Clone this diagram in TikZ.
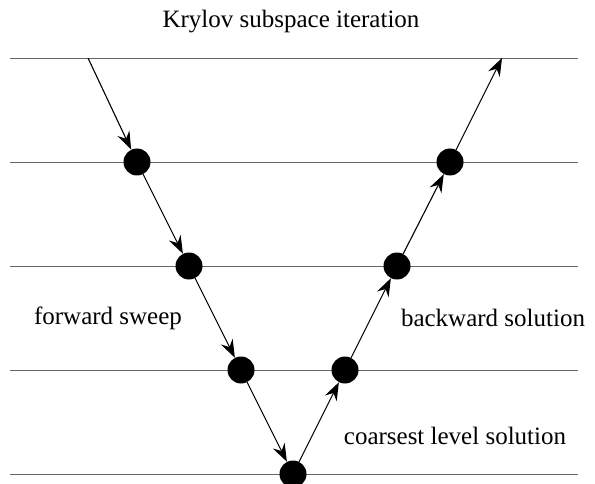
\documentclass[tikz,border=0pt]{standalone}
\usepackage{fontspec}
\setmainfont{Liberation Serif}
\usetikzlibrary{arrows.meta}
\begin{document}
\begin{tikzpicture}[x=1pt,y=-1pt,
  level/.style={draw=black!60,line width=0.9pt},
  dot/.style={circle,fill=black,inner sep=0pt,minimum size=27pt},
  flow/.style={draw=black,line width=1.1pt,-{Stealth[length=18pt,width=13pt,inset=6pt]}},
  lbl/.style={font=\fontsize{25}{30}\selectfont,inner sep=0pt}]
\useasboundingbox (0,0) rectangle (595,484);
\foreach \y in {58,162,266,370,474} \draw[level] (10,\y) -- (578,\y);
\coordinate (s) at (88,58);
\coordinate (e) at (502,58);
\node[dot] (d1) at (137,162) {};
\node[dot] (d2) at (189,266) {};
\node[dot] (d3) at (241,370) {};
\node[dot] (d4) at (293,474) {};
\node[dot] (d5) at (345,370) {};
\node[dot] (d6) at (397,266) {};
\node[dot] (d7) at (450,162) {};
\draw[flow] (s) -- (d1);
\draw[flow] (d1) -- (d2);
\draw[flow] (d2) -- (d3);
\draw[flow] (d3) -- (d4);
\draw[flow] (d4) -- (d5);
\draw[flow] (d5) -- (d6);
\draw[flow] (d6) -- (d7);
\draw[flow] (d7) -- (e);
\node[lbl] (t) at (291,22) {Krylov subspace iteration};
\node[lbl] (fw) at (108,318) {forward sweep};
\node[lbl] (bw) at (493,318) {backward solution};
\node[lbl] (cs) at (455,436) {coarsest level solution};
\end{tikzpicture}
\end{document}
